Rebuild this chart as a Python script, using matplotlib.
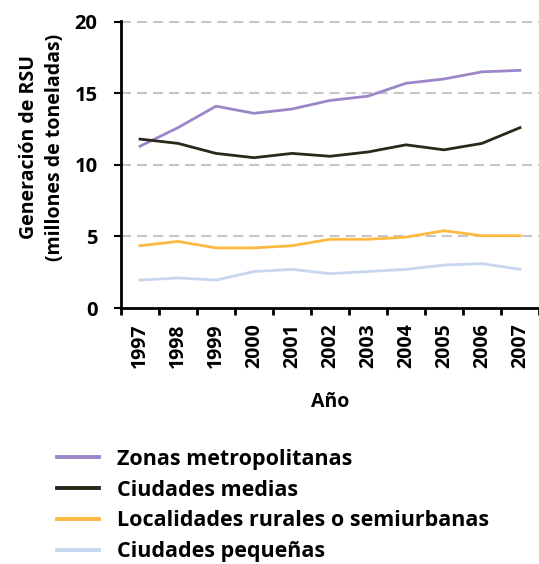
import numpy as np
import matplotlib
matplotlib.use('Agg')
import matplotlib.pyplot as plt

plt.rcParams['font.family'] = ['Open Sans', 'DejaVu Sans']
plt.rcParams['font.weight'] = 'bold'

# datos (millones de toneladas)
anios = ['1997', '1998', '1999', '2000', '2001', '2002', '2003', '2004', '2005', '2006', '2007']
zonas_metro = [11.3, 12.6, 14.1, 13.6, 13.9, 14.5, 14.8, 15.7, 16.0, 16.5, 16.6]
ciudades_medias = [11.8, 11.5, 10.8, 10.5, 10.8, 10.6, 10.9, 11.4, 11.05, 11.5, 12.6]
localidades_rurales = [4.35, 4.65, 4.2, 4.2, 4.35, 4.8, 4.8, 4.95, 5.4, 5.05, 5.05]
ciudades_pequenas = [1.95, 2.1, 1.95, 2.55, 2.7, 2.4, 2.55, 2.7, 3.0, 3.1, 2.7]

series = [
    ('Zonas metropolitanas', zonas_metro, '#9b87c8'),
    ('Ciudades medias', ciudades_medias, '#2b2719'),
    ('Localidades rurales o semiurbanas', localidades_rurales, '#fdb940'),
    ('Ciudades pequeñas', ciudades_pequenas, '#c8d7ef'),
]

fig = plt.figure(figsize=(5.39, 5.64), dpi=100)
ax = fig.add_axes([121/539, 1 - 308/564, 1 - 121/539, (308 - 21)/564])

x = np.arange(len(anios))
for nombre, vals, col in series:
    ax.plot(x, vals, color=col, lw=2, label=nombre, solid_joinstyle='round')

ax.set_xlim(-0.5, 10.47)
ax.set_ylim(0, 20.05)
ax.set_yticks([0, 5, 10, 15, 20])
for v in [5, 10, 15, 20]:
    ax.axhline(v, color='#c6c6c6', lw=1.5, ls=(0, (4.8, 2.9)), zorder=0)

ax.spines['top'].set_visible(False)
ax.spines['right'].set_visible(False)
ax.spines['left'].set_linewidth(2)
ax.spines['bottom'].set_linewidth(2)

ax.set_xticks(x)
ax.set_xticklabels(anios, rotation=90, fontsize=14, fontweight='bold')
ax.set_xticks(np.arange(-0.5, 10.6, 1), minor=True)
ax.tick_params(axis='x', which='major', length=0, pad=11)
ax.tick_params(axis='x', which='minor', length=5, width=2, direction='out')
ax.tick_params(axis='y', length=5, width=1.5, labelsize=14.5, pad=12)
for t in ax.get_yticklabels():
    t.set_fontweight('bold')

ax.set_xlabel('Año', fontsize=14, fontweight='bold', labelpad=17)
ax.set_ylabel('Generación de RSU\n(millones de toneladas)', fontsize=14,
              fontweight='bold', linespacing=1.4)
ax.yaxis.set_label_coords(-0.135, 0.56)

leg = fig.legend(loc='upper left', bbox_to_anchor=(57/539, 1 - 449/564),
                 frameon=False, handlelength=1.95, handletextpad=0.85,
                 labelspacing=0.45, borderpad=0, borderaxespad=0,
                 prop={'weight': 'bold', 'size': 15.5})
for h in leg.get_lines():
    h.set_linewidth(2.8)

fig.savefig('out.png', dpi=100)
